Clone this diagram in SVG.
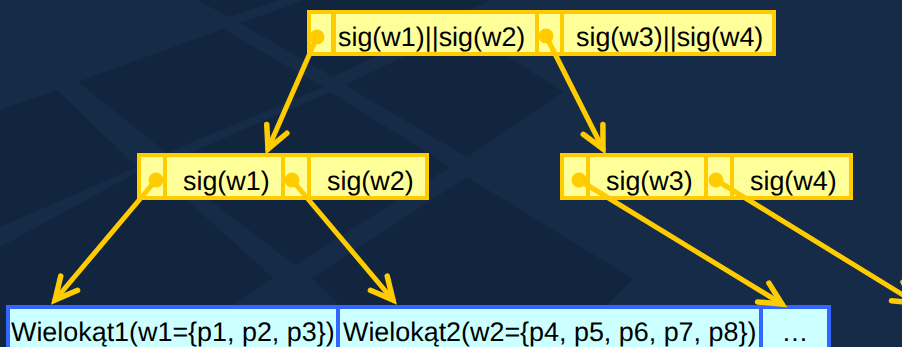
<svg xmlns="http://www.w3.org/2000/svg" width="902" height="347" viewBox="0 0 902 347">
<style>
.y{fill:#ffff99;stroke:#ffcc00;stroke-width:4}
.b{fill:#ccffff;stroke:#3366ff;stroke-width:4}
text{font-family:"Liberation Sans",Arial,sans-serif;font-size:26.9px;fill:#000;text-rendering:geometricPrecision}
.m{text-anchor:middle}
.c{fill:none;stroke:#ffcc00;stroke-width:5;stroke-linecap:round;marker-end:url(#a)}
.d{fill:#ffcc00}
.g{fill:#12253f}
</style>
<defs><marker id="a" markerUnits="userSpaceOnUse" markerWidth="40" markerHeight="40" refX="30" refY="20" orient="auto" viewBox="0 0 40 40"><path d="M8 9L30 20L8 31" fill="none" stroke="#ffcc00" stroke-width="5.5" stroke-linecap="round" stroke-linejoin="miter"/></marker></defs>
<rect width="902" height="347" fill="#152b47"/>
<g id="background">
<path class="g" d="M78 82L223 29L323 87L167 153Z"/>
<path class="g" d="M0 110L57 90L137 167L0 227Z"/>
<path class="g" d="M0 247L138 172L187 200L273 278L233 305V347H0Z"/>
<path class="g" d="M163 165L330 92L450 167L295 265Z"/>
<path class="g" d="M345 85L463 28L563 92L467 157Z"/>
<path class="g" d="M197 0L230 17L280 0Z"/>
<path class="g" d="M240 23L305 0H490L333 77Z"/>
<path class="g" d="M312 278L467 177L633 279L607 305V347H340V305Z"/>
</g>
<g id="node-root">
<rect class="y" x="309" y="12" width="24" height="42"/>
<rect class="y" x="334" y="12" width="203" height="42"/>
<rect class="y" x="537" y="12" width="25" height="42"/>
<rect class="y" x="562" y="12" width="212" height="42"/>
<text x="338" y="46">sig(w1)||sig(w2)</text>
<text x="576" y="46">sig(w3)||sig(w4)</text>
</g>
<g id="node-left">
<rect class="y" x="139" y="155" width="26" height="43"/>
<rect class="y" x="165" y="155" width="118" height="43"/>
<rect class="y" x="283" y="155" width="26" height="43"/>
<rect class="y" x="309" y="155" width="118" height="43"/>
<text x="183" y="190">sig(w1)</text>
<text x="327" y="190">sig(w2)</text>
</g>
<g id="node-right">
<rect class="y" x="562" y="155" width="26" height="43"/>
<rect class="y" x="588" y="155" width="118" height="43"/>
<rect class="y" x="706" y="155" width="26" height="43"/>
<rect class="y" x="732" y="155" width="119" height="43"/>
<text x="606" y="190">sig(w3)</text>
<text x="750" y="190">sig(w4)</text>
</g>
<g id="leaf-1"><rect class="b" x="8" y="307" width="330" height="50"/><text x="11" y="341">Wielokąt1(w1={p1, p2, p3})</text></g>
<g id="leaf-2"><rect class="b" x="338" y="307" width="423" height="50"/><text x="343" y="341">Wielokąt2(w2={p4, p5, p6, p7, p8})</text></g>
<g id="leaf-3"><rect class="b" x="761" y="307" width="68" height="50"/><text x="795" y="341" class="m">…</text></g>
<g id="connectors">
<path class="c" d="M317 37L268 149"/>
<path class="c" d="M546 36L603 149"/>
<path class="c" d="M156 180L55 300"/>
<path class="c" d="M292 180L393 300"/>
<path class="c" d="M579 180L782 304"/>
<path class="c" d="M716 180L916 303"/>
<circle class="d" cx="317" cy="37" r="7.5"/>
<circle class="d" cx="546" cy="36" r="7.5"/>
<circle class="d" cx="156" cy="180" r="7.5"/>
<circle class="d" cx="292" cy="180" r="7.5"/>
<circle class="d" cx="579" cy="180" r="7.5"/>
<circle class="d" cx="716" cy="180" r="7.5"/>
</g>
</svg>
